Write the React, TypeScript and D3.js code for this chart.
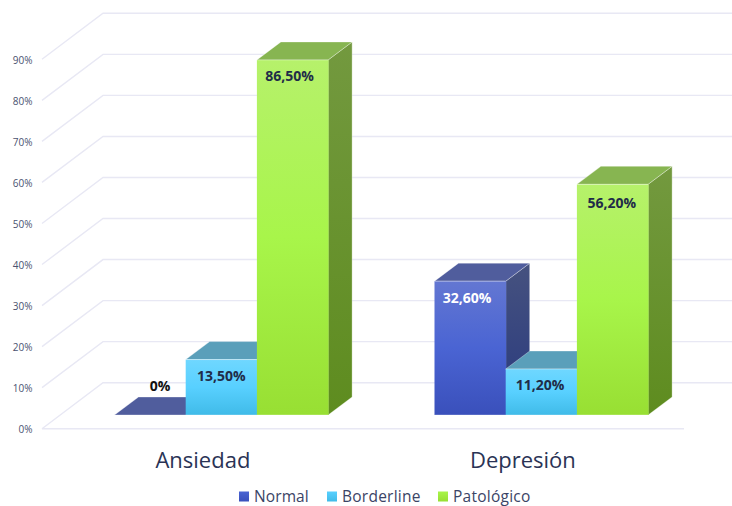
import React from "react";
import * as d3 from "d3";

const categories = ["Ansiedad", "Depresión"];
const seriesNames = ["Normal", "Borderline", "Patológico"];
const normalValues = [0, 32.6];
const borderlineValues = [13.5, 11.2];
const pathologicValues = [86.5, 56.2];
const valueLabels = [
  ["0%", "32,60%"],
  ["13,50%", "11,20%"],
  ["86,50%", "56,20%"],
];
const yTicks = [0, 10, 20, 30, 40, 50, 60, 70, 80, 90];

const seriesValues = [normalValues, borderlineValues, pathologicValues];

const faces = [
  {
    key: "blue",
    front: ["#6377d2", "#4a64d3", "#3a50bb"],
    side: ["#46527f", "#28397f"],
    top: "#505d9d",
    swatch: ["#4a64d3", "#3a50bb"],
    label: "#ffffff",
  },
  {
    key: "cyan",
    front: ["#6fd7ff", "#58d0ff", "#40bbe8"],
    side: ["#4c8ba5", "#3a7f9c"],
    top: "#5a9fba",
    swatch: ["#58d0ff", "#40bbe8"],
    label: "#1f2c48",
  },
  {
    key: "green",
    front: ["#b6f16b", "#a8f54a", "#98df33"],
    side: ["#73993f", "#5e8c1f"],
    top: "#87b551",
    swatch: ["#a8f54a", "#98df33"],
    label: "#1f2c48",
  },
];

// Nudges of each value label from its default spot, [dx, dy] per series and category.
const labelNudges = [
  [[10, -28.5], [-3, 17.3]],
  [[0, 17], [-1.3, 16]],
  [[-3, 16.6], [-0.7, 19]],
];

const FONT = '"Open Sans", "Noto Sans", sans-serif';
const GRID = "#e8e8f4";
const EDGE = "rgba(255,255,255,0.4)";
const DEPTH_X = 24;
const DEPTH_Y = 18;
const WALL_X = 61;
const WALL_Y = 46;

export default function App() {
  // Scales on the front wall plane; the bars stand further back on the floor.
  const axisY = d3.scaleLinear().domain([0, 90]).range([428.7, 59.3]);
  const barY = d3.scaleLinear().domain([0, 90]).range([415, 45.6]);
  const groupX = d3.scaleBand().domain(categories).range([34.5, 674.5]).paddingInner(0).paddingOuter(0);
  const seriesX = d3.scaleBand().domain(seriesNames).range([80, 293.6]);

  return (
    <svg
      width={732}
      height={506}
      viewBox="0 0 732 506"
      style={{ position: "fixed", left: 0, top: 0, background: "#ffffff" }}
    >
      <defs>
        {faces.map((f) => (
          <React.Fragment key={f.key}>
            <linearGradient id={`front-${f.key}`} x1="0" y1="0" x2="0" y2="1">
              <stop offset="0" stopColor={f.front[0]} />
              <stop offset="0.5" stopColor={f.front[1]} />
              <stop offset="1" stopColor={f.front[2]} />
            </linearGradient>
            <linearGradient id={`side-${f.key}`} x1="0" y1="0" x2="0" y2="1">
              <stop offset="0" stopColor={f.side[0]} />
              <stop offset="1" stopColor={f.side[1]} />
            </linearGradient>
            <linearGradient id={`swatch-${f.key}`} x1="0" y1="0" x2="0" y2="1">
              <stop offset="0" stopColor={f.swatch[0]} />
              <stop offset="1" stopColor={f.swatch[1]} />
            </linearGradient>
          </React.Fragment>
        ))}
      </defs>

      {/* Gridlines: diagonal on the side wall, horizontal on the back wall */}
      {yTicks.map((t) => {
        const y = axisY(t);
        const isFloor = t === 0;
        return (
          <g key={t}>
            <path
              d={`M${42},${y}L${42 + WALL_X},${y - WALL_Y}L${732},${y - WALL_Y}`}
              fill="none"
              stroke={GRID}
              strokeWidth={1.4}
            />
            {isFloor && <line x1={42} x2={684} y1={y} y2={y} stroke={GRID} strokeWidth={1.5} />}
            <text
              x={32.5}
              y={y + 0.8}
              dy="0.35em"
              textAnchor="end"
              fontFamily={FONT}
              fontSize={10}
              fill="#4a5270"
            >
              {t}%
            </text>
          </g>
        );
      })}

      {/* Bars, drawn left to right within each group */}
      {categories.map((cat, ci) => {
        const gx = groupX(cat)!;
        const sw = seriesX.bandwidth();
        const y0 = barY(0);
        return (
          <g key={cat}>
            {seriesNames.map((name, si) => {
              const f = faces[si];
              const v = seriesValues[si][ci];
              const x = gx + seriesX(name)!;
              const y = barY(v);
              return (
                <g key={name}>
                  <path
                    d={`M${x + sw},${y}L${x + sw + DEPTH_X},${y - DEPTH_Y}L${x + sw + DEPTH_X},${y0 - DEPTH_Y}L${x + sw},${y0}Z`}
                    fill={`url(#side-${f.key})`}
                    stroke={EDGE}
                    strokeWidth={0.8}
                  />
                  <path
                    d={`M${x},${y}L${x + DEPTH_X},${y - DEPTH_Y}L${x + sw + DEPTH_X},${y - DEPTH_Y}L${x + sw},${y}Z`}
                    fill={f.top}
                    stroke={EDGE}
                    strokeWidth={0.8}
                  />
                  {v > 0 && (
                    <>
                      <rect
                        x={x}
                        y={y}
                        width={sw + 0.5}
                        height={y0 - y}
                        fill={`url(#front-${f.key})`}
                      />
                      <line x1={x} x2={x + sw} y1={y} y2={y} stroke={EDGE} strokeWidth={0.8} />
                      <line x1={x} x2={x + sw} y1={y0} y2={y0} stroke={EDGE} strokeWidth={0.8} />
                    </>
                  )}
                </g>
              );
            })}
            {seriesNames.map((name, si) => {
              const v = seriesValues[si][ci];
              const [dx, dy] = labelNudges[si][ci];
              const x = gx + seriesX(name)! + sw / 2;
              const y = barY(v);
              return (
                <text
                  key={name}
                  x={x + dx}
                  y={y + dy}
                  dy="0.35em"
                  textAnchor="middle"
                  fontFamily={FONT}
                  fontSize={14}
                  fontWeight={700}
                  fill={v === 0 ? "#111111" : faces[si].label}
                >
                  {valueLabels[si][ci]}
                </text>
              );
            })}
            <text
              x={gx + 168.4}
              y={468}
              textAnchor="middle"
              fontFamily={FONT}
              fontSize={22}
              fill="#2a3355"
            >
              {cat}
            </text>
          </g>
        );
      })}

      {/* Legend */}
      {seriesNames.map((name, si) => {
        const lx = [239, 327, 438][si];
        return (
          <g key={name}>
            <rect x={lx} y={491.5} width={10} height={10} fill={`url(#swatch-${faces[si].key})`} />
            <text
              x={lx + 15}
              y={502}
              fontFamily={FONT}
              fontSize={15.5}
              letterSpacing={si === 0 ? 0.1 : 0.25}
              fill="#3b4466"
            >
              {name}
            </text>
          </g>
        );
      })}
    </svg>
  );
}
